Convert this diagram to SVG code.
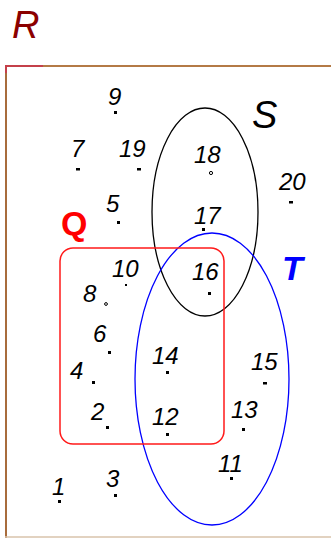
<svg xmlns="http://www.w3.org/2000/svg" width="331" height="538" viewBox="0 0 331 538">
<style>
.n{font-family:"Liberation Sans",Arial,sans-serif;font-style:italic;font-size:24px;fill:#000}
.d{fill:#000}
.o{fill:#fff;stroke:#000;stroke-width:1}
.big{font-family:"Liberation Sans",Arial,sans-serif}
</style>
<rect width="331" height="538" fill="#fff"/>
<g id="frame">
<line x1="6" y1="66" x2="331" y2="66" stroke="#b47a46" stroke-width="2"/>
<line x1="6" y1="65" x2="6" y2="538" stroke="#a86c3c" stroke-width="2"/>
<line x1="5" y1="537" x2="331" y2="537" stroke="#d9c3ab" stroke-width="1.5"/>
<line x1="5" y1="66" x2="43" y2="66" stroke="#c4404a" stroke-width="2"/>
<line x1="6" y1="65" x2="6" y2="73" stroke="#c4404a" stroke-width="2"/>
</g>
<text class="big" x="12" y="38" font-size="38" font-style="italic" fill="#8b0000">R</text>
<g id="S">
<ellipse cx="205" cy="212" rx="53" ry="104" fill="none" stroke="#000" stroke-width="1.3"/>
<text class="big" x="252" y="128" font-size="38" font-style="italic" fill="#000">S</text>
</g>
<g id="T">
<ellipse cx="212" cy="379" rx="77" ry="146" fill="none" stroke="#0000ff" stroke-width="1.3"/>
<text class="big" x="282" y="280" font-size="34" font-style="italic" font-weight="bold" fill="#0000ff">T</text>
</g>
<g id="Q">
<rect x="60" y="248" width="164" height="196" rx="13" fill="none" stroke="#ff1a1a" stroke-width="1.5"/>
<text class="big" x="61" y="235" font-size="34" font-weight="bold" fill="#ff0000">Q</text>
</g>
<g id="e9"><text class="n" x="108" y="105">9</text><rect class="d" x="114" y="111" width="3" height="3"/></g>
<g id="e7"><text class="n" x="71" y="157">7</text><rect class="d" x="76" y="168" width="4" height="2.5"/></g>
<g id="e19"><text class="n" x="119" y="157">19</text><rect class="d" x="137" y="168" width="4" height="2.5"/></g>
<g id="e18"><text class="n" x="194" y="163">18</text><circle class="o" cx="211" cy="173" r="1.6"/></g>
<g id="e20"><text class="n" x="279" y="190">20</text><rect class="d" x="289" y="201" width="4" height="2.5"/></g>
<g id="e5"><text class="n" x="106" y="212">5</text><rect class="d" x="117" y="221" width="3" height="3"/></g>
<g id="e17"><text class="n" x="194" y="224">17</text><rect class="d" x="202" y="228" width="3" height="3"/></g>
<g id="e10"><text class="n" x="112" y="277">10</text><rect class="d" x="125" y="284" width="2" height="2"/></g>
<g id="e16"><text class="n" x="192" y="280">16</text><rect class="d" x="208" y="292" width="3" height="3"/></g>
<g id="e8"><text class="n" x="83" y="302">8</text><circle class="o" cx="106" cy="304" r="1.4"/></g>
<g id="e6"><text class="n" x="93" y="342">6</text><rect class="d" x="108" y="351" width="3" height="3"/></g>
<g id="e14"><text class="n" x="152" y="364">14</text><rect class="d" x="166" y="371" width="3" height="3"/></g>
<g id="e15"><text class="n" x="251" y="370">15</text><rect class="d" x="263" y="382" width="4" height="2.5"/></g>
<g id="e4"><text class="n" x="70" y="379">4</text><rect class="d" x="92" y="381" width="3" height="3"/></g>
<g id="e2"><text class="n" x="91" y="420">2</text><rect class="d" x="106" y="426" width="3" height="3"/></g>
<g id="e12"><text class="n" x="152" y="425">12</text><rect class="d" x="166" y="433" width="3" height="3"/></g>
<g id="e13"><text class="n" x="231" y="418">13</text><rect class="d" x="242" y="428" width="3" height="3"/></g>
<g id="e11"><text class="n" x="218" y="472">11</text><rect class="d" x="230" y="477" width="3" height="3"/></g>
<g id="e1"><text class="n" x="52" y="495">1</text><rect class="d" x="58" y="500" width="3" height="3"/></g>
<g id="e3"><text class="n" x="106" y="487">3</text><rect class="d" x="114" y="494" width="3" height="3"/></g>
<g id="connectors"></g>
</svg>
